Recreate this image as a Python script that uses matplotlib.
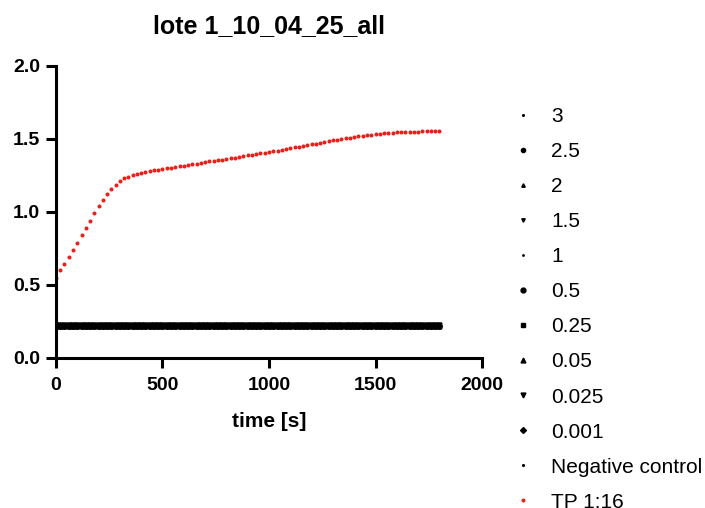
import numpy as np
import matplotlib
matplotlib.use('Agg')
import matplotlib.pyplot as plt

plt.rcParams['font.family'] = ['Liberation Sans', 'DejaVu Sans']

# time axis [s], sampled every 20 s
time_s = np.arange(0, 1801, 20)

# TP 1:16 signal (red)
tp_values = [
    0.55, 0.60, 0.645, 0.69, 0.74, 0.79, 0.84, 0.89, 0.94, 0.99,
    1.04, 1.08, 1.12, 1.155, 1.185, 1.21, 1.23, 1.24, 1.25, 1.26,
    1.267, 1.274, 1.28, 1.285, 1.29, 1.295, 1.30, 1.304, 1.309, 1.313,
    1.318, 1.323, 1.327, 1.332, 1.336, 1.341, 1.346, 1.350, 1.355, 1.359,
    1.364, 1.369, 1.373, 1.378, 1.382, 1.387, 1.392, 1.396, 1.401, 1.405,
    1.41, 1.415, 1.421, 1.426, 1.431, 1.437, 1.442, 1.447, 1.453, 1.458,
    1.463, 1.469, 1.474, 1.479, 1.485, 1.49, 1.495, 1.50, 1.505, 1.51,
    1.514, 1.518, 1.522, 1.526, 1.53, 1.533, 1.536, 1.539, 1.541, 1.543,
    1.545, 1.547, 1.548, 1.549, 1.55, 1.551, 1.552, 1.553, 1.553, 1.554,
    1.555,
]

# black series: flat signal level for each concentration
conc_labels = ['3', '2.5', '2', '1.5', '1', '0.5', '0.25', '0.05', '0.025',
               '0.001', 'Negative control']
conc_levels = [0.222, 0.224, 0.221, 0.223, 0.220, 0.222, 0.225, 0.219,
               0.223, 0.221, 0.222]
conc_markers = ['.', 'o', '^', 'v', '.', 'o', 's', '^', 'v', 'D', '.']
conc_sizes = [2.5, 3.0, 2.5, 2.5, 2.0, 3.5, 3.5, 3.5, 3.5, 3.0, 2.5]

x_ticks = [0, 500, 1000, 1500, 2000]
y_ticks = [0.0, 0.5, 1.0, 1.5, 2.0]
y_tick_labels = ['0.0', '0.5', '1.0', '1.5', '2.0']

fig = plt.figure(figsize=(7.05, 5.08), dpi=100)
ax = fig.add_axes([0.0794, 0.2953, 0.6043, 0.5748])

for label, level, mk, ms in zip(conc_labels, conc_levels, conc_markers, conc_sizes):
    ax.plot(time_s, np.full(len(time_s), level), linestyle='none', marker=mk,
            markersize=ms, color='black', label=label)

ax.plot(time_s, tp_values, linestyle='none', marker='.', markersize=3.8,
        color='#e8201a', label='TP 1:16')

ax.set_xlim(0, 2000)
ax.set_ylim(0, 2.0)

for s in ['top', 'right']:
    ax.spines[s].set_visible(False)
for s in ['left', 'bottom']:
    ax.spines[s].set_linewidth(2.2)
ax.tick_params(width=2.2, length=7.5)
ax.tick_params(axis='x', pad=6)
ax.tick_params(axis='y', pad=4)

ax.set_xticks(x_ticks, labels=[str(t) for t in x_ticks],
              fontsize=14, fontweight='bold')
ax.set_yticks(y_ticks, labels=y_tick_labels, fontsize=14, fontweight='bold')

ax.set_xlabel('time [s]', fontsize=15, fontweight='bold', labelpad=13)
ax.set_title('lote 1_10_04_25_all', fontsize=18, fontweight='bold', pad=24)

ax.legend(loc='upper left', bbox_to_anchor=(0.727, 0.789),
          bbox_transform=fig.transFigure, frameon=False, fontsize=15,
          handlelength=1.0, handletextpad=0.85, labelspacing=0.77,
          borderpad=0, borderaxespad=0, markerscale=1.0)

fig.savefig('out.png', dpi=100)
